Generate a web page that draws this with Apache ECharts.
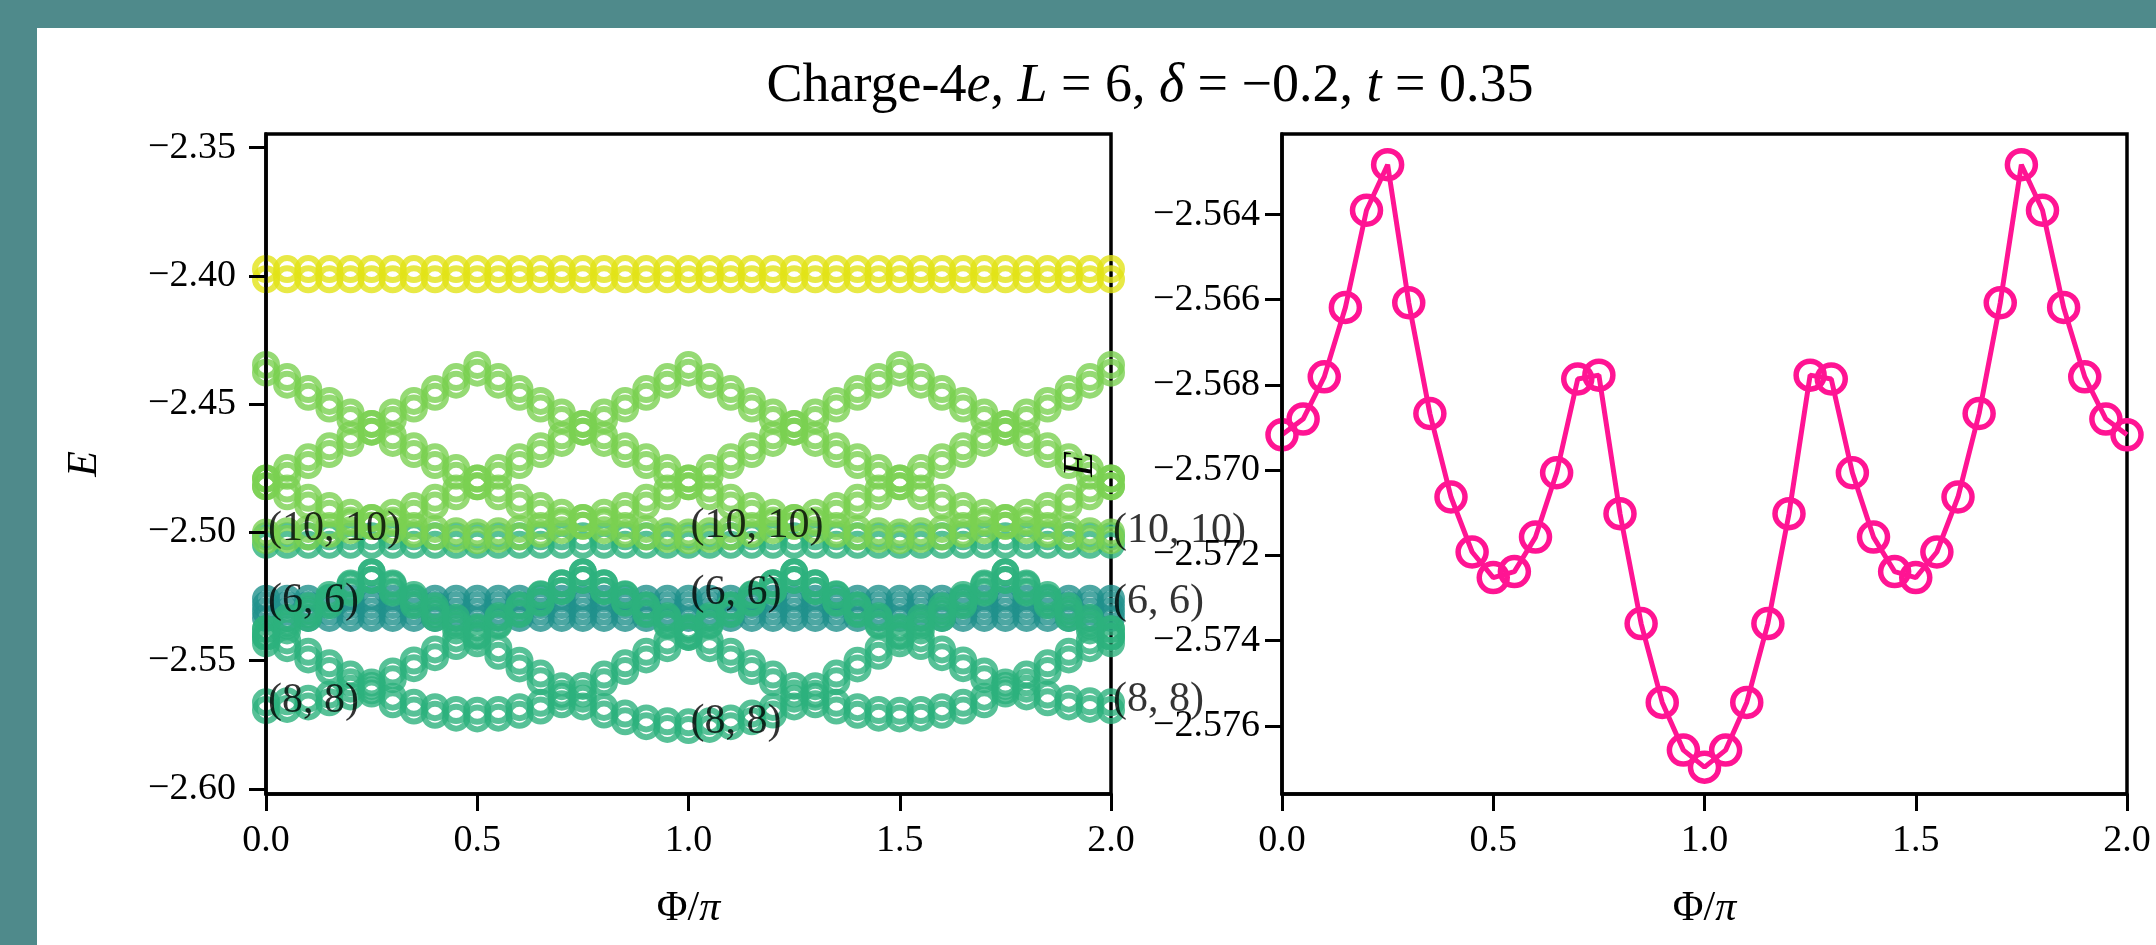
<!DOCTYPE html>
<html>
<head>
<meta charset="utf-8">
<script src="https://cdn.jsdelivr.net/npm/echarts@6/dist/echarts.min.js"></script>
<style>
html, body { margin: 0; padding: 0; background: #4f8a8b; }
#panel { position: absolute; left: 37px; top: 28px; right: 0; bottom: 0; background: #fff; }
#chart { position: absolute; left: 0; top: 0; width: 2156px; height: 945px; }
</style>
</head>
<body>
<div id="panel"></div>
<div id="chart"></div>
<script>
// flux grid, Phi/pi
const PHI = [0, 0.05, 0.1, 0.15, 0.2, 0.25, 0.3, 0.35, 0.4, 0.45, 0.5, 0.55, 0.6, 0.65, 0.7, 0.75, 0.8, 0.85, 0.9, 0.95,
  1, 1.05, 1.1, 1.15, 1.2, 1.25, 1.3, 1.35, 1.4, 1.45, 1.5, 1.55, 1.6, 1.65, 1.7, 1.75, 1.8, 1.85, 1.9, 1.95, 2]

// left panel: spectrum, one array per level
const YELLOW_HI = [-2.3973, -2.3973, -2.3973, -2.3973, -2.3973, -2.3973, -2.3973, -2.3973, -2.3973, -2.3973, -2.3973,
  -2.3973, -2.3973, -2.3973, -2.3973, -2.3973, -2.3973, -2.3973, -2.3973, -2.3973, -2.3973,
  -2.3973, -2.3973, -2.3973, -2.3973, -2.3973, -2.3973, -2.3973, -2.3973, -2.3973, -2.3973,
  -2.3973, -2.3973, -2.3973, -2.3973, -2.3973, -2.3973, -2.3973, -2.3973, -2.3973, -2.3973]
const YELLOW_LO = [-2.4013, -2.4013, -2.4013, -2.4013, -2.4013, -2.4013, -2.4013, -2.4013, -2.4013, -2.4013, -2.4013,
  -2.4013, -2.4013, -2.4013, -2.4013, -2.4013, -2.4013, -2.4013, -2.4013, -2.4013, -2.4013,
  -2.4013, -2.4013, -2.4013, -2.4013, -2.4013, -2.4013, -2.4013, -2.4013, -2.4013, -2.4013,
  -2.4013, -2.4013, -2.4013, -2.4013, -2.4013, -2.4013, -2.4013, -2.4013, -2.4013, -2.4013]

const LIME_A_HI = [-2.4347, -2.4394, -2.4441, -2.4487, -2.4532, -2.4577, -2.4621, -2.4664, -2.4707, -2.4749, -2.4790,
  -2.4829, -2.4865, -2.4897, -2.4923, -2.4944, -2.4961, -2.4975, -2.4986, -2.4995, -2.5000,
  -2.4995, -2.4986, -2.4975, -2.4961, -2.4944, -2.4923, -2.4897, -2.4865, -2.4829, -2.4790,
  -2.4749, -2.4707, -2.4664, -2.4621, -2.4577, -2.4532, -2.4487, -2.4441, -2.4394, -2.4347]
const LIME_A_LO = [-2.4377, -2.4424, -2.4471, -2.4517, -2.4562, -2.4607, -2.4651, -2.4694, -2.4737, -2.4779, -2.4820,
  -2.4859, -2.4895, -2.4927, -2.4953, -2.4974, -2.4991, -2.5005, -2.5016, -2.5025, -2.5030,
  -2.5025, -2.5016, -2.5005, -2.4991, -2.4974, -2.4953, -2.4927, -2.4895, -2.4859, -2.4820,
  -2.4779, -2.4737, -2.4694, -2.4651, -2.4607, -2.4562, -2.4517, -2.4471, -2.4424, -2.4377]
const LIME_B_HI = [-2.4790, -2.4749, -2.4707, -2.4664, -2.4621, -2.4577, -2.4532, -2.4487, -2.4441, -2.4394, -2.4347,
  -2.4394, -2.4441, -2.4487, -2.4532, -2.4577, -2.4621, -2.4664, -2.4707, -2.4749, -2.4790,
  -2.4829, -2.4865, -2.4897, -2.4923, -2.4944, -2.4961, -2.4975, -2.4986, -2.4995, -2.5000,
  -2.4995, -2.4986, -2.4975, -2.4961, -2.4944, -2.4923, -2.4897, -2.4865, -2.4829, -2.4790]
const LIME_B_LO = [-2.4820, -2.4779, -2.4737, -2.4694, -2.4651, -2.4607, -2.4562, -2.4517, -2.4471, -2.4424, -2.4377,
  -2.4424, -2.4471, -2.4517, -2.4562, -2.4607, -2.4651, -2.4694, -2.4737, -2.4779, -2.4820,
  -2.4859, -2.4895, -2.4927, -2.4953, -2.4974, -2.4991, -2.5005, -2.5016, -2.5025, -2.5030,
  -2.5025, -2.5016, -2.5005, -2.4991, -2.4974, -2.4953, -2.4927, -2.4895, -2.4859, -2.4820]
const LIME_C_HI = [-2.5000, -2.4995, -2.4986, -2.4975, -2.4961, -2.4944, -2.4923, -2.4897, -2.4865, -2.4829, -2.4790,
  -2.4749, -2.4707, -2.4664, -2.4621, -2.4577, -2.4532, -2.4487, -2.4441, -2.4394, -2.4347,
  -2.4394, -2.4441, -2.4487, -2.4532, -2.4577, -2.4621, -2.4664, -2.4707, -2.4749, -2.4790,
  -2.4829, -2.4865, -2.4897, -2.4923, -2.4944, -2.4961, -2.4975, -2.4986, -2.4995, -2.5000]
const LIME_C_LO = [-2.5030, -2.5025, -2.5016, -2.5005, -2.4991, -2.4974, -2.4953, -2.4927, -2.4895, -2.4859, -2.4820,
  -2.4779, -2.4737, -2.4694, -2.4651, -2.4607, -2.4562, -2.4517, -2.4471, -2.4424, -2.4377,
  -2.4424, -2.4471, -2.4517, -2.4562, -2.4607, -2.4651, -2.4694, -2.4737, -2.4779, -2.4820,
  -2.4859, -2.4895, -2.4927, -2.4953, -2.4974, -2.4991, -2.5005, -2.5016, -2.5025, -2.5030]
const LIME_D_HI = [-2.4790, -2.4829, -2.4865, -2.4897, -2.4923, -2.4944, -2.4961, -2.4975, -2.4986, -2.4995, -2.5000,
  -2.4995, -2.4986, -2.4975, -2.4961, -2.4944, -2.4923, -2.4897, -2.4865, -2.4829, -2.4790,
  -2.4749, -2.4707, -2.4664, -2.4621, -2.4577, -2.4532, -2.4487, -2.4441, -2.4394, -2.4347,
  -2.4394, -2.4441, -2.4487, -2.4532, -2.4577, -2.4621, -2.4664, -2.4707, -2.4749, -2.4790]
const LIME_D_LO = [-2.4820, -2.4859, -2.4895, -2.4927, -2.4953, -2.4974, -2.4991, -2.5005, -2.5016, -2.5025, -2.5030,
  -2.5025, -2.5016, -2.5005, -2.4991, -2.4974, -2.4953, -2.4927, -2.4895, -2.4859, -2.4820,
  -2.4779, -2.4737, -2.4694, -2.4651, -2.4607, -2.4562, -2.4517, -2.4471, -2.4424, -2.4377,
  -2.4424, -2.4471, -2.4517, -2.4562, -2.4607, -2.4651, -2.4694, -2.4737, -2.4779, -2.4820]

const TEAL_1 = [-2.5258, -2.5258, -2.5258, -2.5258, -2.5258, -2.5258, -2.5258, -2.5258, -2.5258, -2.5258, -2.5258,
  -2.5258, -2.5258, -2.5258, -2.5258, -2.5258, -2.5258, -2.5258, -2.5258, -2.5258, -2.5258,
  -2.5258, -2.5258, -2.5258, -2.5258, -2.5258, -2.5258, -2.5258, -2.5258, -2.5258, -2.5258,
  -2.5258, -2.5258, -2.5258, -2.5258, -2.5258, -2.5258, -2.5258, -2.5258, -2.5258, -2.5258]
const TEAL_2 = [-2.5283, -2.5283, -2.5283, -2.5283, -2.5283, -2.5283, -2.5283, -2.5283, -2.5283, -2.5283, -2.5283,
  -2.5283, -2.5283, -2.5283, -2.5283, -2.5283, -2.5283, -2.5283, -2.5283, -2.5283, -2.5283,
  -2.5283, -2.5283, -2.5283, -2.5283, -2.5283, -2.5283, -2.5283, -2.5283, -2.5283, -2.5283,
  -2.5283, -2.5283, -2.5283, -2.5283, -2.5283, -2.5283, -2.5283, -2.5283, -2.5283, -2.5283]
const TEAL_3 = [-2.5308, -2.5308, -2.5308, -2.5308, -2.5308, -2.5308, -2.5308, -2.5308, -2.5308, -2.5308, -2.5308,
  -2.5308, -2.5308, -2.5308, -2.5308, -2.5308, -2.5308, -2.5308, -2.5308, -2.5308, -2.5308,
  -2.5308, -2.5308, -2.5308, -2.5308, -2.5308, -2.5308, -2.5308, -2.5308, -2.5308, -2.5308,
  -2.5308, -2.5308, -2.5308, -2.5308, -2.5308, -2.5308, -2.5308, -2.5308, -2.5308, -2.5308]
const TEAL_4 = [-2.5333, -2.5333, -2.5333, -2.5333, -2.5333, -2.5333, -2.5333, -2.5333, -2.5333, -2.5333, -2.5333,
  -2.5333, -2.5333, -2.5333, -2.5333, -2.5333, -2.5333, -2.5333, -2.5333, -2.5333, -2.5333,
  -2.5333, -2.5333, -2.5333, -2.5333, -2.5333, -2.5333, -2.5333, -2.5333, -2.5333, -2.5333,
  -2.5333, -2.5333, -2.5333, -2.5333, -2.5333, -2.5333, -2.5333, -2.5333, -2.5333, -2.5333]

const GREEN_FLAT_1 = [-2.5015, -2.5015, -2.5015, -2.5015, -2.5015, -2.5015, -2.5015, -2.5015, -2.5015, -2.5015, -2.5015,
  -2.5015, -2.5015, -2.5015, -2.5015, -2.5015, -2.5015, -2.5015, -2.5015, -2.5015, -2.5015,
  -2.5015, -2.5015, -2.5015, -2.5015, -2.5015, -2.5015, -2.5015, -2.5015, -2.5015, -2.5015,
  -2.5015, -2.5015, -2.5015, -2.5015, -2.5015, -2.5015, -2.5015, -2.5015, -2.5015, -2.5015]
const GREEN_FLAT_2 = [-2.5048, -2.5048, -2.5048, -2.5048, -2.5048, -2.5048, -2.5048, -2.5048, -2.5048, -2.5048, -2.5048,
  -2.5048, -2.5048, -2.5048, -2.5048, -2.5048, -2.5048, -2.5048, -2.5048, -2.5048, -2.5048,
  -2.5048, -2.5048, -2.5048, -2.5048, -2.5048, -2.5048, -2.5048, -2.5048, -2.5048, -2.5048,
  -2.5048, -2.5048, -2.5048, -2.5048, -2.5048, -2.5048, -2.5048, -2.5048, -2.5048, -2.5048]

const GREEN_A_LO = [-2.5692, -2.5688, -2.5678, -2.5662, -2.5639, -2.5615, -2.5572, -2.5529, -2.5486, -2.5443, -2.5400,
  -2.5357, -2.5314, -2.5271, -2.5228, -2.5185, -2.5228, -2.5271, -2.5314, -2.5357, -2.5400,
  -2.5357, -2.5314, -2.5271, -2.5228, -2.5185, -2.5228, -2.5271, -2.5314, -2.5357, -2.5400,
  -2.5443, -2.5486, -2.5529, -2.5572, -2.5615, -2.5639, -2.5662, -2.5678, -2.5688, -2.5692]
const GREEN_A_HI = [-2.5662, -2.5658, -2.5648, -2.5632, -2.5609, -2.5585, -2.5542, -2.5499, -2.5456, -2.5413, -2.5370,
  -2.5327, -2.5284, -2.5241, -2.5198, -2.5155, -2.5198, -2.5241, -2.5284, -2.5327, -2.5370,
  -2.5327, -2.5284, -2.5241, -2.5198, -2.5155, -2.5198, -2.5241, -2.5284, -2.5327, -2.5370,
  -2.5413, -2.5456, -2.5499, -2.5542, -2.5585, -2.5609, -2.5632, -2.5648, -2.5658, -2.5662]
const GREEN_B_LO = [-2.5407, -2.5451, -2.5495, -2.5540, -2.5584, -2.5628, -2.5670, -2.5694, -2.5711, -2.5722, -2.5725,
  -2.5722, -2.5711, -2.5694, -2.5670, -2.5628, -2.5584, -2.5540, -2.5495, -2.5451, -2.5407,
  -2.5362, -2.5318, -2.5274, -2.5229, -2.5185, -2.5229, -2.5274, -2.5318, -2.5362, -2.5407,
  -2.5362, -2.5318, -2.5274, -2.5229, -2.5185, -2.5229, -2.5274, -2.5318, -2.5362, -2.5407]
const GREEN_B_HI = [-2.5377, -2.5421, -2.5465, -2.5510, -2.5554, -2.5598, -2.5640, -2.5664, -2.5681, -2.5692, -2.5695,
  -2.5692, -2.5681, -2.5664, -2.5640, -2.5598, -2.5554, -2.5510, -2.5465, -2.5421, -2.5377,
  -2.5332, -2.5288, -2.5244, -2.5199, -2.5155, -2.5199, -2.5244, -2.5288, -2.5332, -2.5377,
  -2.5332, -2.5288, -2.5244, -2.5199, -2.5155, -2.5199, -2.5244, -2.5288, -2.5332, -2.5377]
const GREEN_C_LO = [-2.5432, -2.5382, -2.5333, -2.5284, -2.5234, -2.5185, -2.5234, -2.5284, -2.5333, -2.5382, -2.5432,
  -2.5481, -2.5530, -2.5580, -2.5629, -2.5678, -2.5710, -2.5736, -2.5755, -2.5766, -2.5770,
  -2.5766, -2.5755, -2.5736, -2.5710, -2.5678, -2.5629, -2.5580, -2.5530, -2.5481, -2.5432,
  -2.5382, -2.5333, -2.5284, -2.5234, -2.5185, -2.5234, -2.5284, -2.5333, -2.5382, -2.5432]
const GREEN_C_HI = [-2.5402, -2.5352, -2.5303, -2.5254, -2.5204, -2.5155, -2.5204, -2.5254, -2.5303, -2.5352, -2.5402,
  -2.5451, -2.5500, -2.5550, -2.5599, -2.5648, -2.5680, -2.5706, -2.5725, -2.5736, -2.5740,
  -2.5736, -2.5725, -2.5706, -2.5680, -2.5648, -2.5599, -2.5550, -2.5500, -2.5451, -2.5402,
  -2.5352, -2.5303, -2.5254, -2.5204, -2.5155, -2.5204, -2.5254, -2.5303, -2.5352, -2.5402]
const GREEN_D_LO = [-2.5407, -2.5362, -2.5318, -2.5274, -2.5229, -2.5185, -2.5229, -2.5274, -2.5318, -2.5362, -2.5407,
  -2.5362, -2.5318, -2.5274, -2.5229, -2.5185, -2.5229, -2.5274, -2.5318, -2.5362, -2.5407,
  -2.5451, -2.5495, -2.5540, -2.5584, -2.5628, -2.5670, -2.5694, -2.5711, -2.5722, -2.5725,
  -2.5722, -2.5711, -2.5694, -2.5670, -2.5628, -2.5584, -2.5540, -2.5495, -2.5451, -2.5407]
const GREEN_D_HI = [-2.5377, -2.5332, -2.5288, -2.5244, -2.5199, -2.5155, -2.5199, -2.5244, -2.5288, -2.5332, -2.5377,
  -2.5332, -2.5288, -2.5244, -2.5199, -2.5155, -2.5199, -2.5244, -2.5288, -2.5332, -2.5377,
  -2.5421, -2.5465, -2.5510, -2.5554, -2.5598, -2.5640, -2.5664, -2.5681, -2.5692, -2.5695,
  -2.5692, -2.5681, -2.5664, -2.5640, -2.5598, -2.5554, -2.5510, -2.5465, -2.5421, -2.5377]

// sector labels, placed at Phi/pi = 0, 1, 2
const LABEL_X = [0, 1, 2]
const LABEL_10 = [-2.4987, -2.4976, -2.4993]
const LABEL_6 = [-2.5266, -2.5234, -2.5269]
const LABEL_8 = [-2.5657, -2.5738, -2.5652]

// right panel: ground state
const GROUND = [-2.56917, -2.56880, -2.56781, -2.56618, -2.56390, -2.56283, -2.56607, -2.56867, -2.57063, -2.57192, -2.57252,
  -2.57238, -2.57157, -2.57006, -2.56786, -2.56777, -2.57102, -2.57360, -2.57545, -2.57657, -2.57697,
  -2.57657, -2.57545, -2.57360, -2.57102, -2.56777, -2.56786, -2.57006, -2.57157, -2.57238, -2.57252,
  -2.57192, -2.57063, -2.56867, -2.56607, -2.56283, -2.56390, -2.56618, -2.56781, -2.56880, -2.56917]

const X_TICKS = [0, 0.5, 1, 1.5, 2]
const Y_TICKS_L = [-2.60, -2.55, -2.50, -2.45, -2.40, -2.35]
const Y_TICKS_R = [-2.576, -2.574, -2.572, -2.570, -2.568, -2.566, -2.564]

const SERIF = '"Liberation Serif", "DejaVu Serif", serif'
const TEAL = '#21918c'
const GREEN = '#2db27d'
const LIME = '#7ad151'
const YELLOW = '#e2e418'
const PINK = '#ff1493'

const minus = (v, d) => (v < 0 ? '\u2212' : '') + Math.abs(v).toFixed(d)

const rings = (ys, color) => ({
  type: 'scatter',
  xAxisIndex: 0,
  yAxisIndex: 0,
  silent: true,
  symbol: 'circle',
  symbolSize: 22,
  itemStyle: { color: 'transparent', borderColor: color, borderWidth: 6 },
  data: ys.map((e, i) => [PHI[i], e])
})

const tags = (ys, text) => ({
  type: 'scatter',
  xAxisIndex: 0,
  yAxisIndex: 0,
  silent: true,
  z: 10,
  symbolSize: 0,
  data: LABEL_X.map((x, i) => [x, ys[i]]),
  label: {
    show: true,
    position: 'right',
    distance: 2,
    formatter: text,
    fontFamily: SERIF,
    fontSize: 42,
    color: '#000'
  }
})

const xAxisFor = (g) => ({
  type: 'value',
  gridIndex: g,
  min: 0,
  max: 2,
  interval: 0.5,
  name: '\u03a6/{i|\u03c0}',
  nameLocation: 'middle',
  nameGap: 94,
  nameTextStyle: {
    fontFamily: SERIF, fontSize: 42, color: '#000',
    rich: { i: { fontFamily: SERIF, fontSize: 42, fontStyle: 'italic', color: '#000' } }
  },
  axisLine: { show: true, onZero: false, lineStyle: { color: '#000', width: 3.5 } },
  axisTick: { show: true, length: 17, lineStyle: { color: '#000', width: 3 }, customValues: X_TICKS },
  axisLabel: { margin: 28, fontFamily: SERIF, fontSize: 38, color: '#000', customValues: X_TICKS, formatter: (v) => v.toFixed(1) },
  splitLine: { show: false }
})

const yAxisFor = (g, min, max, ticks, digits, margin, gap) => ({
  type: 'value',
  gridIndex: g,
  min,
  max,
  z: 10,
  name: 'E',
  nameLocation: 'middle',
  nameRotate: 90,
  nameGap: gap,
  nameTextStyle: { fontFamily: SERIF, fontSize: 42, fontStyle: 'italic', color: '#000' },
  axisLine: { show: true, onZero: false, lineStyle: { color: '#000', width: 3.5 } },
  axisTick: { show: true, length: 17, lineStyle: { color: '#000', width: 3 }, customValues: ticks },
  axisLabel: { margin, fontFamily: SERIF, fontSize: 38, color: '#000', customValues: ticks, formatter: (v) => minus(v, digits) },
  splitLine: { show: false }
})

const chart = echarts.init(document.getElementById('chart'), null, { renderer: 'canvas' })
chart.setOption({
  animation: false,
  backgroundColor: 'transparent',
  title: {
    text: 'Charge-4{i|e}, {i|L} = 6, {i|\u03b4} = \u22120.2, {i|t} = 0.35',
    left: 1145,
    top: 55,
    textAlign: 'center',
    textStyle: {
      fontFamily: SERIF, fontSize: 54, fontWeight: 'normal', color: '#000',
      rich: { i: { fontFamily: SERIF, fontSize: 54, fontStyle: 'italic', color: '#000' } }
    }
  },
  grid: [
    { left: 266, top: 134, width: 845, height: 660, show: true, borderColor: '#000', borderWidth: 3.5, backgroundColor: 'transparent' },
    { left: 1282, top: 134, width: 845, height: 660, show: true, borderColor: '#000', borderWidth: 3.5, backgroundColor: 'transparent' }
  ],
  xAxis: [xAxisFor(0), xAxisFor(1)],
  yAxis: [
    yAxisFor(0, -2.60195, -2.34466, Y_TICKS_L, 2, 30, 160),
    yAxisFor(1, -2.5776, -2.56211, Y_TICKS_R, 3, 22, 180)
  ],
  series: [
    rings(TEAL_1, TEAL), rings(TEAL_2, TEAL), rings(TEAL_3, TEAL), rings(TEAL_4, TEAL),
    rings(GREEN_FLAT_1, GREEN), rings(GREEN_FLAT_2, GREEN),
    rings(GREEN_A_LO, GREEN), rings(GREEN_A_HI, GREEN),
    rings(GREEN_B_LO, GREEN), rings(GREEN_B_HI, GREEN),
    rings(GREEN_C_LO, GREEN), rings(GREEN_C_HI, GREEN),
    rings(GREEN_D_LO, GREEN), rings(GREEN_D_HI, GREEN),
    rings(LIME_A_HI, LIME), rings(LIME_A_LO, LIME),
    rings(LIME_B_HI, LIME), rings(LIME_B_LO, LIME),
    rings(LIME_C_HI, LIME), rings(LIME_C_LO, LIME),
    rings(LIME_D_HI, LIME), rings(LIME_D_LO, LIME),
    rings(YELLOW_HI, YELLOW), rings(YELLOW_LO, YELLOW),
    tags(LABEL_10, '(10, 10)'),
    tags(LABEL_6, '(6, 6)'),
    tags(LABEL_8, '(8, 8)'),
    {
      type: 'line',
      xAxisIndex: 1,
      yAxisIndex: 1,
      silent: true,
      symbol: 'circle',
      symbolSize: 28,
      showAllSymbol: true,
      lineStyle: { color: PINK, width: 5 },
      itemStyle: { color: 'transparent', borderColor: PINK, borderWidth: 5.5 },
      data: GROUND.map((e, i) => [PHI[i], e])
    }
  ]
})
</script>
</body>
</html>
